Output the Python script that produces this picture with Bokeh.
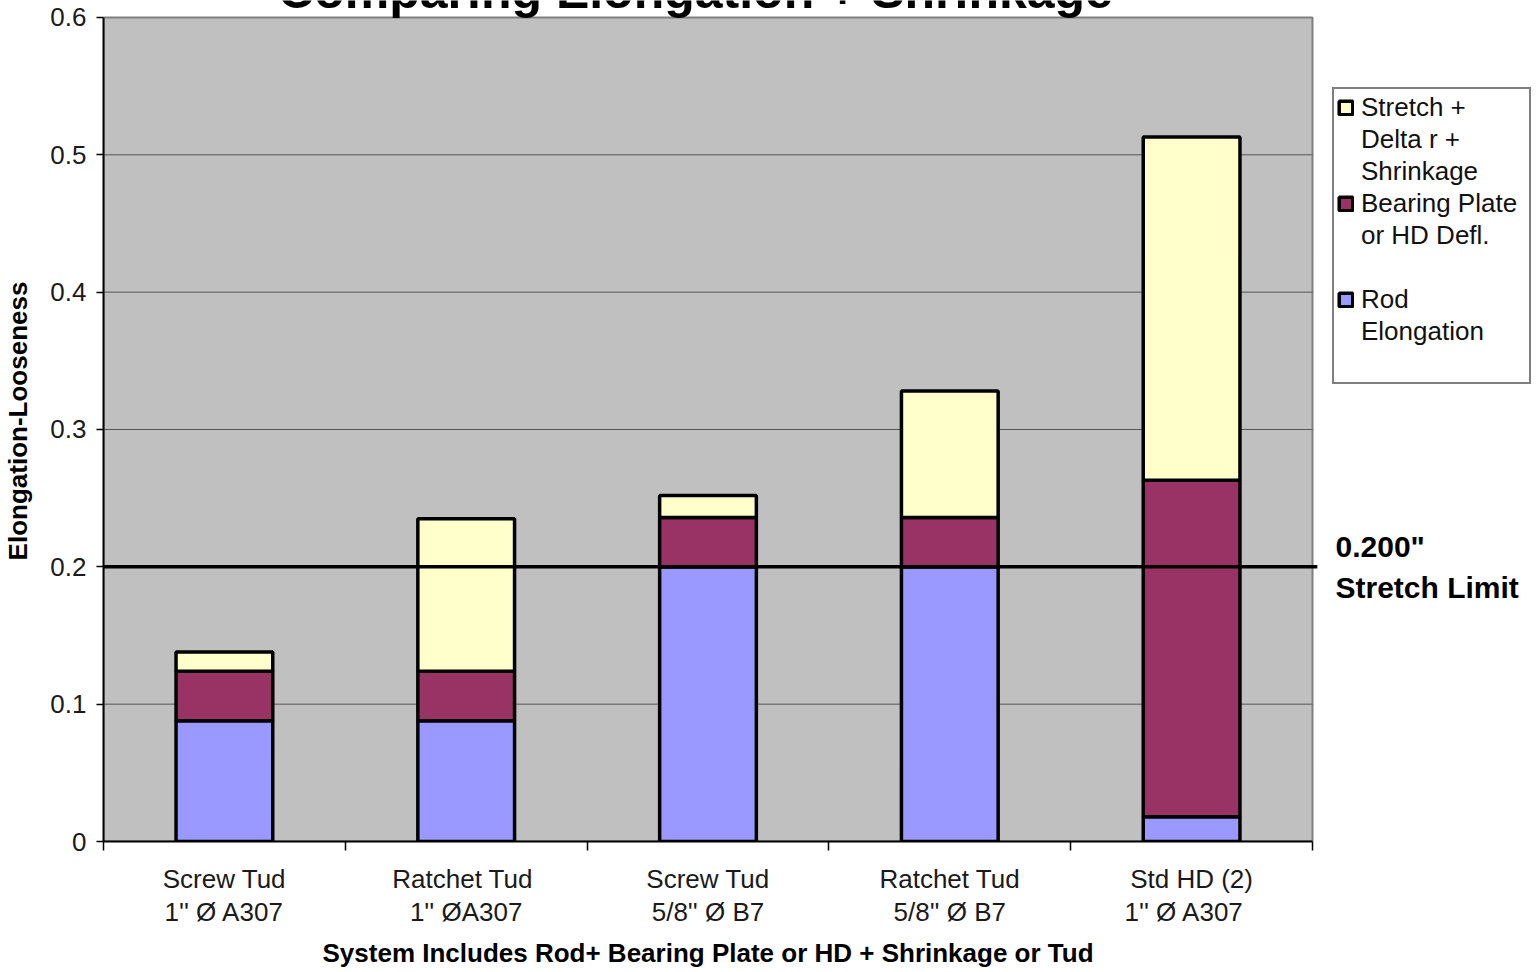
import numpy as np
from bokeh.plotting import figure
from bokeh.models import (ColumnDataSource, Range1d, FixedTicker, Label,
                          Legend, LegendItem, Title)
from bokeh.embed import file_html
from bokeh.resources import INLINE

# ---- data ----
categories = ["Screw Tud\n1'' Ø A307", "Ratchet  Tud\n1'' ØA307",
              "Screw Tud\n5/8'' Ø B7", "Ratchet Tud\n5/8'' Ø B7",
              "Std HD (2)\n1''  Ø  A307"]
rod_elongation = [0.088, 0.088, 0.200, 0.200, 0.018]
bearing_plate = [0.036, 0.036, 0.036, 0.036, 0.245]
stretch_shrinkage = [0.014, 0.111, 0.016, 0.092, 0.250]
series_labels = ["Rod\nElongation\n", "Bearing Plate\nor HD Defl.\n",
                 "Stretch +\nDelta r +\nShrinkage"]
series_colors = ["#9999FF", "#993366", "#FFFFCC"]
y_ticks = [0, 0.1, 0.2, 0.3, 0.4, 0.5, 0.6]
stretch_limit = 0.2
title_text = "Comparing Elongation + Shrinkage"
x_title = "System Includes Rod+ Bearing Plate or HD + Shrinkage or Tud"
y_title = "Elongation-Looseness"
limit_text = '0.200"\nStretch Limit'

FONT = "Liberation Sans"
FS = "26px"
n = len(categories)
x_centers = list(np.arange(n) + 0.5)
y_max = y_ticks[-1]

# pixel layout of the reference: plot area 1209 x 825 px, 17 px above it,
# 226 px to its right (legend / notes live there)
W, H, LEFT, TOP, RIGHT, BOTTOM = 1538, 972, 103, 17, 226, 130
plot_w = W - LEFT - RIGHT
px_per_x = plot_w / n
px_per_y = (H - TOP - BOTTOM) / y_max

src = ColumnDataSource(dict(x=x_centers, rod=rod_elongation,
                            bearing=bearing_plate, stretch=stretch_shrinkage))

p = figure(width=W, height=H, output_backend="svg", toolbar_location=None,
           x_range=Range1d(0, n + RIGHT / px_per_x),
           y_range=Range1d(0, y_max + TOP / px_per_y),
           min_border_left=LEFT, min_border_right=0, min_border_top=0,
           min_border_bottom=BOTTOM)
p.background_fill_color = "white"
p.border_fill_color = "white"
p.outline_line_color = None
p.xgrid.visible = False
p.ygrid.visible = False

# grey plot area
p.quad(left=[0], right=[n], bottom=[0], top=[y_max], fill_color="#C0C0C0",
       line_color="#808080", line_width=2)
# horizontal gridlines
gl = y_ticks[1:-1]
p.segment(x0=[0] * len(gl), x1=[n] * len(gl), y0=gl, y1=gl,
          line_color="#555555", line_width=1)

renderers = p.vbar_stack(["rod", "bearing", "stretch"], x="x", width=0.4,
                         color=series_colors, line_color="black",
                         line_width=3.5, source=src)

# stretch limit line
p.segment(x0=[0], x1=[n + 0.02], y0=[stretch_limit], y1=[stretch_limit],
          line_color="black", line_width=3.5)

# y axis
ya = p.yaxis[0]
ya.bounds = (0, y_max)
ya.ticker = FixedTicker(ticks=y_ticks)
ya.major_label_overrides = {0: "0"}
ya.axis_line_color = "black"
ya.axis_line_width = 2
ya.major_tick_out = 7
ya.major_tick_in = 0
ya.major_tick_line_width = 1.5
ya.minor_tick_line_color = None
ya.major_label_standoff = 10
ya.major_label_text_font = FONT
ya.major_label_text_font_size = FS
ya.major_label_text_color = "#1a1a1a"
ya.axis_label = y_title
ya.axis_label_text_font = FONT
ya.axis_label_text_font_size = FS
ya.axis_label_text_font_style = "bold"
ya.axis_label_text_color = "black"
ya.axis_label_standoff = 14

# x axis
xa = p.xaxis[0]
xa.bounds = (0, n)
xa.ticker = FixedTicker(ticks=x_centers, minor_ticks=list(range(n + 1)))
xa.major_label_overrides = {c: lab for c, lab in zip(x_centers, categories)}
xa.axis_line_color = "black"
xa.axis_line_width = 2
xa.major_tick_line_color = None
xa.major_tick_out = 0
xa.major_tick_in = 0
xa.minor_tick_line_color = "black"
xa.minor_tick_line_width = 1.5
xa.minor_tick_out = 9
xa.minor_tick_in = 0
xa.major_label_standoff = 13
xa.major_label_text_font = FONT
xa.major_label_text_font_size = FS
xa.major_label_text_color = "#1a1a1a"
xa.major_label_text_line_height = 1.12

# x-axis title, under the grey plot area (not under the whole frame)
p.add_layout(Title(text=x_title, align="left", offset=322 - LEFT,
                   text_font=FONT, text_font_size=FS, text_font_style="bold",
                   text_color="black", standoff=10), "below")

p.add_layout(Label(x=n + 23 / px_per_x, y=stretch_limit, text=limit_text,
                   text_font=FONT, text_font_size="30px",
                   text_font_style="bold", text_color="black",
                   text_baseline="middle", text_align="left",
                   text_line_height=1.25))

# title (cut off at top edge, as in the reference)
p.add_layout(Label(x=(695 - LEFT) / px_per_x, y=y_max + 27 / px_per_y,
                   text=title_text, text_font=FONT,
                   text_font_size="50px", text_font_style="bold",
                   text_color="black", text_align="center",
                   text_baseline="alphabetic"))

# legend: one row per text line, glyph on the first line of each series
blank = ColumnDataSource(dict(x=[], top=[]))
ghost = p.vbar(x="x", top="top", width=0.1, source=blank,
               fill_alpha=0, line_alpha=0)
items = []
for i in (2, 1, 0):
    lines = series_labels[i].rstrip("\n").split("\n")
    items.append(LegendItem(label=lines[0], renderers=[renderers[i]]))
    for ln in lines[1:]:
        items.append(LegendItem(label=ln, renderers=[ghost]))
    if i != 2:
        items.append(LegendItem(label="\u00a0", renderers=[ghost]))
legend = Legend(items=items, location=(1332 - LEFT, 457),
                border_line_color="black", border_line_width=2,
                background_fill_color="white", background_fill_alpha=1,
                label_text_font=FONT, label_text_font_size=FS,
                label_text_color="#111111", label_text_line_height=1.05,
                label_height=30, glyph_width=17, glyph_height=17,
                label_standoff=7, padding=3, spacing=1, margin=0,
                label_width=165)
p.add_layout(legend)

open("out.html", "w").write(file_html(p, INLINE))
